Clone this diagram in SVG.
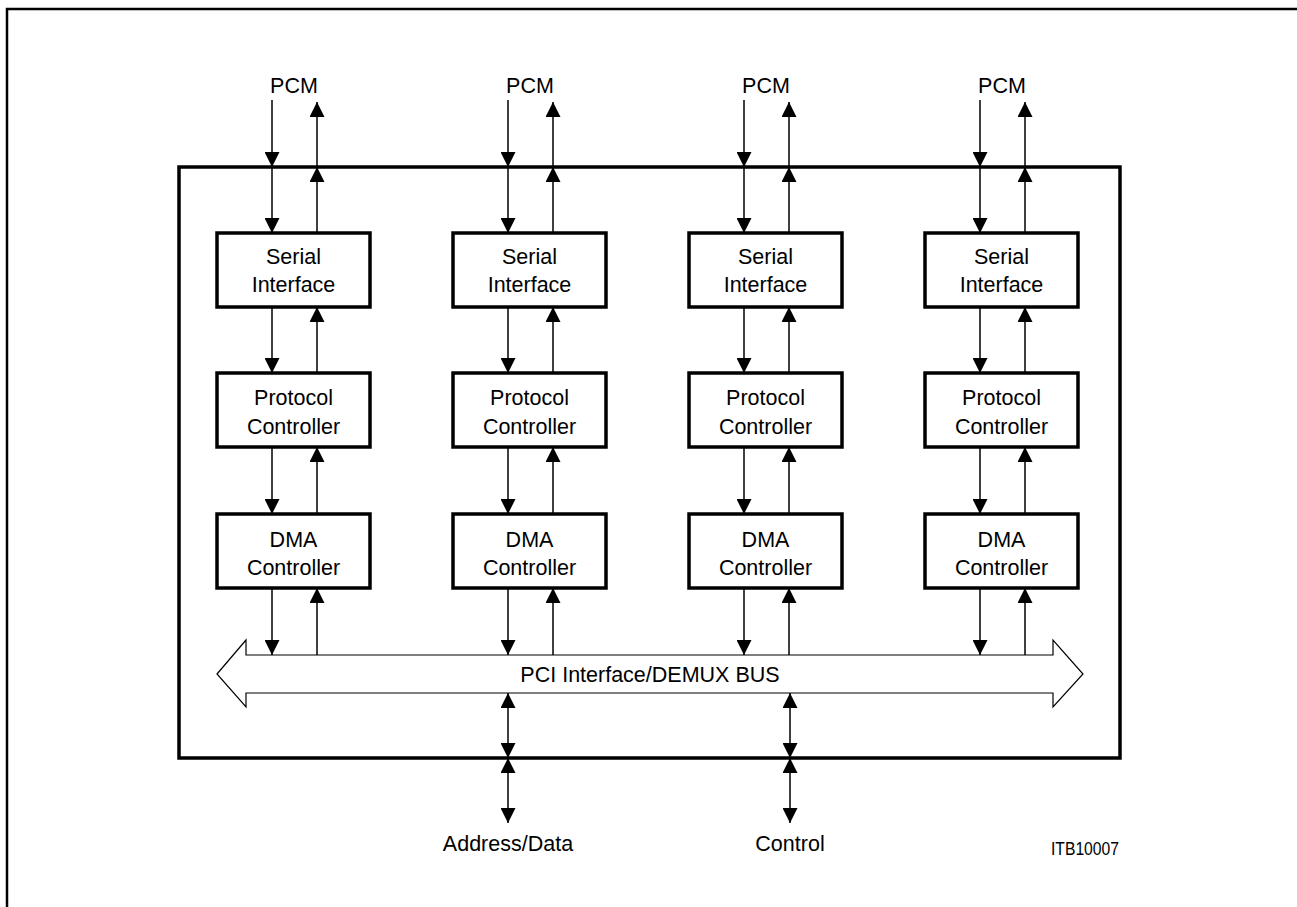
<svg xmlns="http://www.w3.org/2000/svg" width="1297" height="907" viewBox="0 0 1297 907">
<style>
.t{font-family:"Liberation Sans",Arial,sans-serif;font-size:21.5px;fill:#000;text-anchor:middle}
.s{font-family:"Liberation Sans",Arial,sans-serif;font-size:18px;fill:#000}
.box{fill:#fff;stroke:#000;stroke-width:3.5}
.c{fill:none;stroke:#000;stroke-width:1.5;marker-end:url(#ah)}
.b{fill:none;stroke:#000;stroke-width:1.5;marker-start:url(#ah);marker-end:url(#ah)}
</style>
<defs>
<marker id="ah" viewBox="0 0 15 15" refX="15" refY="7.5" markerWidth="15" markerHeight="15" markerUnits="userSpaceOnUse" orient="auto-start-reverse"><path d="M0,0 L15,7.5 L0,15 z" fill="#000"/></marker>
</defs>
<rect width="1297" height="907" fill="#fff"/>
<path d="M7,907 V9 H1297" fill="none" stroke="#000" stroke-width="2.5"/>
<rect id="chip" x="179" y="167" width="941" height="591" fill="none" stroke="#000" stroke-width="3.5"/>

<g id="connectors">
<path class="c" d="M272,100 V167"/><path class="c" d="M272,167 V233"/><path class="c" d="M317,233 V167"/><path class="c" d="M317,167 V102"/>
<path class="c" d="M272,307 V373"/><path class="c" d="M317,373 V307"/>
<path class="c" d="M272,447 V514"/><path class="c" d="M317,514 V447"/>
<path class="c" d="M272,588 V655"/><path class="c" d="M317,655 V588"/>

<path class="c" d="M508,100 V167"/><path class="c" d="M508,167 V233"/><path class="c" d="M553,233 V167"/><path class="c" d="M553,167 V102"/>
<path class="c" d="M508,307 V373"/><path class="c" d="M553,373 V307"/>
<path class="c" d="M508,447 V514"/><path class="c" d="M553,514 V447"/>
<path class="c" d="M508,588 V655"/><path class="c" d="M553,655 V588"/>

<path class="c" d="M744,100 V167"/><path class="c" d="M744,167 V233"/><path class="c" d="M789,233 V167"/><path class="c" d="M789,167 V102"/>
<path class="c" d="M744,307 V373"/><path class="c" d="M789,373 V307"/>
<path class="c" d="M744,447 V514"/><path class="c" d="M789,514 V447"/>
<path class="c" d="M744,588 V655"/><path class="c" d="M789,655 V588"/>

<path class="c" d="M980,100 V167"/><path class="c" d="M980,167 V233"/><path class="c" d="M1025,233 V167"/><path class="c" d="M1025,167 V102"/>
<path class="c" d="M980,307 V373"/><path class="c" d="M1025,373 V307"/>
<path class="c" d="M980,447 V514"/><path class="c" d="M1025,514 V447"/>
<path class="c" d="M980,588 V655"/><path class="c" d="M1025,655 V588"/>

<path class="b" d="M508,693 V758"/><path class="b" d="M508,758 V823"/>
<path class="b" d="M790,693 V758"/><path class="b" d="M790,758 V823"/>
</g>

<g id="bus">
<path d="M217,674 L246,640 V655 H1053 V640 L1083,674 L1053,707 V693 H246 V707 Z" fill="#fff" stroke="#000" stroke-width="1.2"/>
<text class="t" x="650" y="682">PCI Interface/DEMUX BUS</text>
</g>

<g id="col1">
<text class="t" x="294" y="93">PCM</text>
<g id="serial1"><rect class="box" x="217" y="233" width="153" height="74"/><text class="t" x="293.5" y="264">Serial</text><text class="t" x="293.5" y="292">Interface</text></g>
<g id="protocol1"><rect class="box" x="217" y="373" width="153" height="74"/><text class="t" x="293.5" y="405">Protocol</text><text class="t" x="293.5" y="434">Controller</text></g>
<g id="dma1"><rect class="box" x="217" y="514" width="153" height="74"/><text class="t" x="293.5" y="547">DMA</text><text class="t" x="293.5" y="575">Controller</text></g>
</g>
<g id="col2">
<text class="t" x="530" y="93">PCM</text>
<g id="serial2"><rect class="box" x="453" y="233" width="153" height="74"/><text class="t" x="529.5" y="264">Serial</text><text class="t" x="529.5" y="292">Interface</text></g>
<g id="protocol2"><rect class="box" x="453" y="373" width="153" height="74"/><text class="t" x="529.5" y="405">Protocol</text><text class="t" x="529.5" y="434">Controller</text></g>
<g id="dma2"><rect class="box" x="453" y="514" width="153" height="74"/><text class="t" x="529.5" y="547">DMA</text><text class="t" x="529.5" y="575">Controller</text></g>
</g>
<g id="col3">
<text class="t" x="766" y="93">PCM</text>
<g id="serial3"><rect class="box" x="689" y="233" width="153" height="74"/><text class="t" x="765.5" y="264">Serial</text><text class="t" x="765.5" y="292">Interface</text></g>
<g id="protocol3"><rect class="box" x="689" y="373" width="153" height="74"/><text class="t" x="765.5" y="405">Protocol</text><text class="t" x="765.5" y="434">Controller</text></g>
<g id="dma3"><rect class="box" x="689" y="514" width="153" height="74"/><text class="t" x="765.5" y="547">DMA</text><text class="t" x="765.5" y="575">Controller</text></g>
</g>
<g id="col4">
<text class="t" x="1002" y="93">PCM</text>
<g id="serial4"><rect class="box" x="925" y="233" width="153" height="74"/><text class="t" x="1001.5" y="264">Serial</text><text class="t" x="1001.5" y="292">Interface</text></g>
<g id="protocol4"><rect class="box" x="925" y="373" width="153" height="74"/><text class="t" x="1001.5" y="405">Protocol</text><text class="t" x="1001.5" y="434">Controller</text></g>
<g id="dma4"><rect class="box" x="925" y="514" width="153" height="74"/><text class="t" x="1001.5" y="547">DMA</text><text class="t" x="1001.5" y="575">Controller</text></g>
</g>

<g id="labels">
<text class="t" x="508" y="851">Address/Data</text>
<text class="t" x="790" y="851">Control</text>
<text class="s" x="1051" y="855" textLength="68" lengthAdjust="spacingAndGlyphs">ITB10007</text>
</g>
</svg>
